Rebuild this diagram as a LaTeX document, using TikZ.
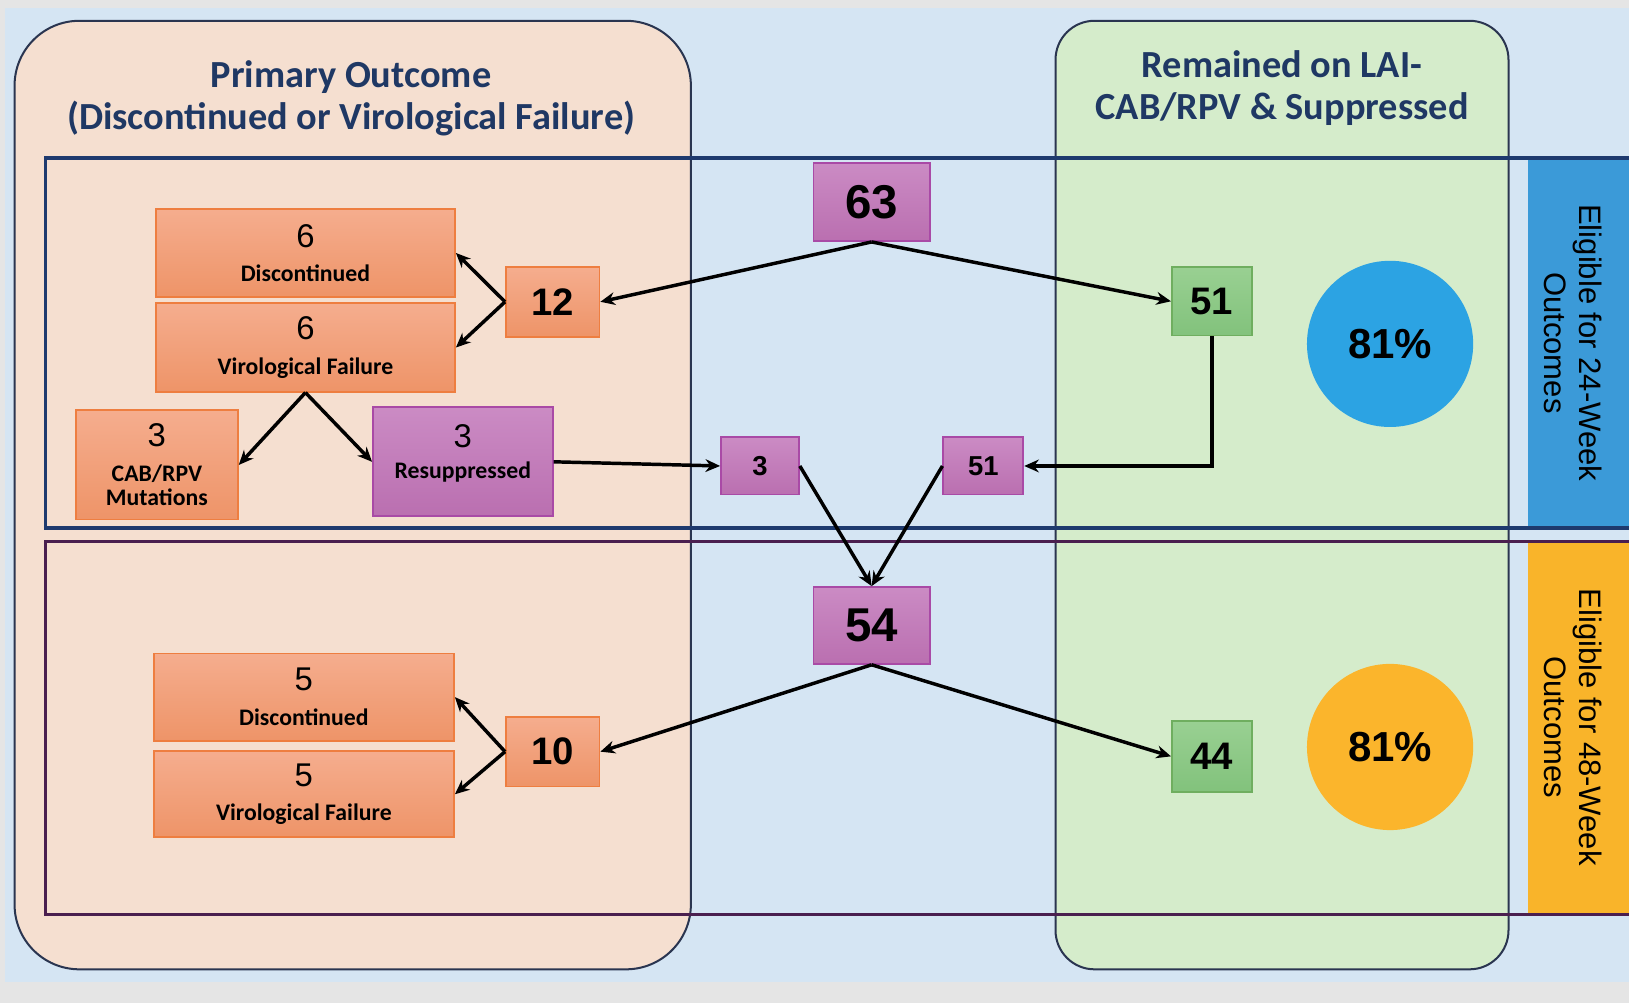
\documentclass[tikz,border=0pt]{standalone}
\usepackage{fontspec}
\setmainfont{Liberation Sans}
\newfontfamily\cfont{Carlito}
\usetikzlibrary{arrows.meta}
\definecolor{bgblue}{HTML}{D5E5F3}
\definecolor{peach}{HTML}{F5DFD0}
\definecolor{lgreen}{HTML}{D5ECCB}
\definecolor{navy}{HTML}{1F3864}
\definecolor{framec}{HTML}{2A3550}
\definecolor{outblue}{HTML}{1E3A6E}
\definecolor{outpurp}{HTML}{4A1F4F}
\definecolor{orTop}{HTML}{F5AD8E}
\definecolor{orBot}{HTML}{EE9468}
\definecolor{orLine}{HTML}{EE7E40}
\definecolor{puTop}{HTML}{CB8BC4}
\definecolor{puBot}{HTML}{BA6FB0}
\definecolor{puLine}{HTML}{A94AA6}
\definecolor{grTop}{HTML}{99D092}
\definecolor{grBot}{HTML}{82C27C}
\definecolor{grLine}{HTML}{6FAE5F}
\definecolor{cblue}{HTML}{2CA3E3}
\definecolor{corange}{HTML}{FBB52C}
\definecolor{bandblue}{HTML}{3B9AD8}
\definecolor{bandorange}{HTML}{F9B42A}
\tikzset{
  obox/.style={draw=orLine, line width=1pt, top color=orTop, bottom color=orBot, inner sep=0pt, align=center, text=black,
    font=\cfont\bfseries\fontsize{13}{19}\selectfont},
  pbox/.style={draw=puLine, line width=1pt, top color=puTop, bottom color=puBot, inner sep=0pt, align=center, text=black,
    font=\cfont\bfseries\fontsize{13}{19}\selectfont},
  gbox/.style={draw=grLine, line width=1pt, top color=grTop, bottom color=grBot, inner sep=0pt, align=center, text=black},
  bignum/.style={font=\bfseries\fontsize{26}{28}\selectfont},
  midnum/.style={font=\bfseries\fontsize{21}{24}\selectfont},
  smallnum/.style={font=\bfseries\fontsize{15}{18}\selectfont},
  arr/.style={-{Stealth[length=8pt,width=7pt]}, line width=1.9pt, black},
  title/.style={text=navy, font=\cfont\bfseries\fontsize{21}{23}\selectfont, align=center},
  band/.style={font=\fontsize{17}{19}\selectfont, align=center, rotate=-90, text=black},
}
\newcommand{\dg}[1]{{\normalfont\fontsize{18}{19}\selectfont #1}}
\begin{document}
\begin{tikzpicture}[x=0.02cm,y=-0.02cm]
\useasboundingbox (0,0) rectangle (1568,965);
% backgrounds
\fill[black!10] (0,0) rectangle (1568,965);
\fill[bgblue] (5,8) rectangle (1568,945);
% big rounded panels
\draw[fill=peach, draw=framec, line width=1.1pt, rounded corners=1.25cm] (14,20) rectangle (665,933);
\draw[fill=lgreen, draw=framec, line width=1.1pt, rounded corners=0.75cm] (1016,20) rectangle (1452,933);
% titles
\node[title] (t1) at (338,95) {Primary Outcome\\(Discontinued or Virological Failure)};
\node[title] (t2) at (1234,85) {Remained on LAI-\\CAB/RPV \& Suppressed};
% side bands
\fill[bandblue] (1471,152) rectangle (1568,508);
\fill[bandorange] (1471,521) rectangle (1568,880);
\node[band] (b1) at (1514,330) {Eligible for 24-Week\\Outcomes};
\node[band] (b2) at (1514,700) {Eligible for 48-Week\\Outcomes};
% outline rectangles
\draw[outblue, line width=1.9pt] (1570,152) -- (44,152) -- (44,508) -- (1570,508);
\draw[outpurp, line width=1.9pt] (1570,521) -- (44,521) -- (44,880) -- (1570,880);
% nodes
\node[pbox, minimum width=2.24cm, minimum height=1.5cm, bignum] (n63) at (839,194.5) {63};
\node[obox, minimum width=1.8cm, minimum height=1.34cm, midnum] (n12) at (532,290.5) {12};
\node[obox, minimum width=5.76cm, minimum height=1.7cm] (d6) at (294,243.5) {\dg{6}\\Discontinued};
\node[obox, minimum width=5.76cm, minimum height=1.7cm] (vf6) at (294,334.5) {\dg{6}\\Virological Failure};
\node[obox, minimum width=3.12cm, minimum height=2.1cm] (mut) at (151,447.5) {\dg{3}\\CAB/RPV\\[-5.5pt]Mutations};
\node[pbox, minimum width=3.46cm, minimum height=2.1cm] (res) at (445.5,444.5) {\dg{3}\\[-2pt]Resuppressed\\[-8pt]\mbox{}};
\node[pbox, minimum width=1.5cm, minimum height=1.1cm, smallnum] (s3) at (731.5,448.5) {3};
\node[pbox, minimum width=1.54cm, minimum height=1.1cm, smallnum] (s51) at (946.5,448.5) {51};
\node[gbox, minimum width=1.54cm, minimum height=1.32cm, midnum] (g51) at (1166.5,290) {51};
\node[circle, fill=cblue, minimum size=3.2cm, inner sep=0pt, font=\bfseries\fontsize{23}{25}\selectfont] (c1) at (1338,331) {81\%};
\node[pbox, minimum width=2.24cm, minimum height=1.48cm, bignum] (n54) at (839,602) {54};
\node[obox, minimum width=1.8cm, minimum height=1.34cm, midnum] (n10) at (532,723.5) {10};
\node[obox, minimum width=5.78cm, minimum height=1.68cm] (d5) at (292.5,671) {\dg{5}\\Discontinued};
\node[obox, minimum width=5.78cm, minimum height=1.66cm] (vf5) at (292.5,764.5) {\dg{5}\\Virological Failure};
\node[gbox, minimum width=1.54cm, minimum height=1.36cm, midnum] (g44) at (1166.5,728) {44};
\node[circle, fill=corange, minimum size=3.2cm, inner sep=0pt, font=\bfseries\fontsize{23}{25}\selectfont] (c2) at (1338,719) {81\%};
% connectors
\draw[arr] (n63.south) -- (n12.east);
\draw[arr] (n63.south) -- (g51.west);
\draw[arr] (n12.west) -- (d6.east);
\draw[arr] (n12.west) -- (vf6.east);
\draw[arr] (vf6.south) -- (mut.east);
\draw[arr] (vf6.south) -- (res.west);
\draw[arr] (res.east) -- (s3.west);
\draw[arr] (g51.south) |- (s51.east);
\draw[arr] (s3.east) -- (n54.north);
\draw[arr] (s51.west) -- (n54.north);
\draw[arr] (n54.south) -- (n10.east);
\draw[arr] (n54.south) -- (g44.west);
\draw[arr] (n10.west) -- (d5.east);
\draw[arr] (n10.west) -- (vf5.east);
\end{tikzpicture}
\end{document}
